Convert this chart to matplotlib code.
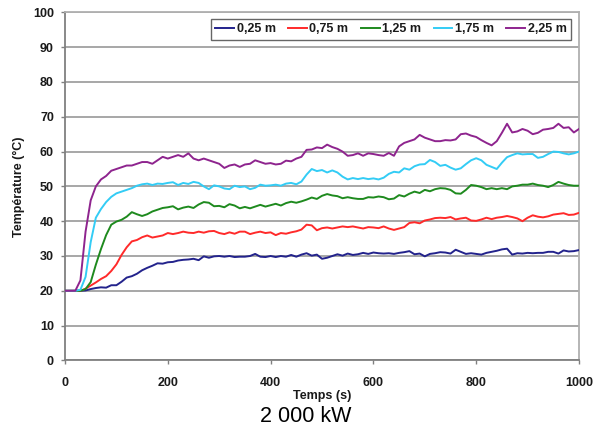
import matplotlib
matplotlib.use("Agg")
import matplotlib.pyplot as plt

time_s = list(range(0, 1001, 10))

t_025 = [20, 20, 20, 20, 20.1, 20.5, 20.8, 21, 20.9, 21.6, 21.6, 22.6, 23.8, 24.2, 24.9, 25.9, 26.6, 27.2, 27.9, 27.8,
         28.2, 28.3, 28.7, 28.9, 29, 29.2, 28.8, 29.9, 29.5, 29.9, 30, 29.8, 30, 29.7, 29.8, 29.8, 30, 30.6, 29.8, 29.7,
         30, 29.7, 30, 29.8, 30.3, 29.8, 30.4, 30.8, 30.1, 30.4, 29.2, 29.5, 30, 30.5, 30.1, 30.7, 30.3, 30.5, 30.9, 30.6,
         31, 30.8, 30.7, 30.8, 30.6, 30.9, 31.1, 31.4, 30.5, 30.7, 29.9, 30.6, 30.8, 31.1, 31, 30.7, 31.8, 31.2, 30.6, 30.8,
         30.6, 30.4, 30.9, 31.2, 31.5, 31.9, 32.1, 30.4, 30.8, 30.7, 30.9, 30.8, 30.9, 30.9, 31.2, 31.2, 30.7, 31.6, 31.3, 31.4,
         31.7]

t_075 = [20, 20, 20, 20, 20.6, 21.5, 22.4, 23.4, 24.2, 25.7, 27.6, 30.3, 32.5, 34.2, 34.6, 35.4, 35.9, 35.3, 35.6, 35.9,
         36.6, 36.3, 36.6, 37, 36.7, 36.6, 37, 36.7, 37.1, 37.2, 36.6, 36.3, 36.8, 36.4, 37, 37, 36.3, 36.7, 37, 36.6,
         36.8, 36, 36.6, 36.4, 36.8, 37.1, 37.6, 39, 38.8, 37.4, 38, 38.2, 37.9, 38.2, 38.5, 38.3, 38.5, 38.2, 37.9, 38.3,
         38.2, 38, 38.5, 37.9, 37.5, 37.9, 38.3, 39.5, 39.7, 39.4, 40.2, 40.5, 40.9, 41, 40.9, 41.2, 40.5, 40.8, 41, 40.2,
         40.1, 40.5, 41, 40.6, 41, 41.2, 41.5, 41.2, 40.8, 40, 41, 41.7, 41.3, 41.1, 41.4, 41.9, 42.1, 42.3, 41.8, 41.9,
         42.4]

t_125 = [20, 20, 20, 20, 20.5, 22.5, 27.5, 32, 36, 39, 39.9, 40.4, 41.3, 42.6, 42, 41.5, 42, 42.8, 43.3, 43.8,
         44, 44.3, 43.4, 43.9, 44.2, 43.8, 44.8, 45.5, 45.3, 44.3, 44.4, 44, 44.9, 44.5, 43.7, 44.1, 43.7, 44.2, 44.7, 44.2,
         44.6, 45, 44.5, 45.2, 45.6, 45.3, 45.7, 46.2, 46.8, 46.4, 47.3, 47.8, 47.4, 47.2, 46.6, 46.9, 46.6, 46.4, 46.4, 46.9,
         46.8, 47.1, 46.9, 46.3, 46.5, 47.5, 47.1, 47.9, 48.5, 48.1, 49, 48.6, 49.2, 49.5, 49.4, 49, 48, 47.9, 49, 50.4,
         50.2, 49.8, 49.2, 49.5, 49.2, 49.5, 49.2, 50, 50.2, 50.5, 50.5, 50.8, 50.4, 50.2, 49.8, 50.4, 51.3, 50.8, 50.4, 50.2,
         50.2]

t_175 = [20, 20, 20, 20.3, 24, 34, 41, 43.5, 45.5, 47, 48, 48.5, 49, 49.5, 50.2, 50.6, 50.8, 50.4, 50.8, 50.7,
         51, 51.2, 50.4, 51, 50.7, 51.3, 51, 50, 49.2, 50.3, 50, 49.4, 49.2, 50.2, 49.8, 50, 49.2, 49.6, 50.5, 50.2,
         50.3, 50.5, 50.2, 50.8, 51, 50.6, 51.4, 53.4, 55, 54.4, 54.7, 54, 54.6, 54, 52.8, 52, 52.4, 52.1, 52.4, 52.1,
         52.3, 52, 52.5, 53.6, 54.2, 54, 55.2, 54.8, 55.8, 56.3, 56.4, 57.6, 57, 55.9, 56.2, 55.4, 54.8, 55.2, 56.4, 57.5,
         58.1, 57.5, 56.2, 55.6, 55, 56.8, 58.4, 59, 59.5, 59.2, 59.3, 59.3, 58.2, 58.5, 59.3, 60, 59.9, 59.5, 59.2, 59.5,
         60]

t_225 = [20, 20, 20, 23, 37, 46, 50, 52, 53, 54.5, 55, 55.5, 56, 56, 56.5, 57, 57, 56.5, 57.5, 58.5,
         58, 58.5, 59, 58.5, 59.5, 58, 57.5, 58, 57.5, 57, 56.5, 55.3, 56, 56.3, 55.6, 56.3, 56.5, 57.5, 57, 56.5,
         56.7, 56.3, 56.5, 57.4, 57.2, 58, 58.5, 60.5, 60.6, 61.2, 61, 62, 61.3, 60.8, 60, 58.8, 59, 59.5, 58.8, 59.5,
         59.3, 59, 58.8, 59.6, 58.8, 61.5, 62.5, 63, 63.5, 64.8, 64, 63.5, 63, 63, 63.3, 63.2, 63.5, 65, 65.2, 64.6,
         64.2, 63.3, 62.5, 61.8, 63, 65.4, 68, 65.5, 65.8, 66.5, 66, 65, 65.4, 66.3, 66.5, 66.8, 68, 66.8, 67, 65.5,
         66.5]

series_labels = ["0,25 m", "0,75 m", "1,25 m", "1,75 m", "2,25 m"]
series_values = [t_025, t_075, t_125, t_175, t_225]
series_colors = ["#23238C", "#FF2A2A", "#1E8A1E", "#33CCF5", "#8E248E"]

x_ticks = [0, 200, 400, 600, 800, 1000]
y_ticks = [0, 10, 20, 30, 40, 50, 60, 70, 80, 90, 100]

plt.rcParams['font.family'] = ['Liberation Sans', 'DejaVu Sans']

FS = 9

fig = plt.figure(figsize=(6.11, 4.34), dpi=100)
ax = fig.add_axes([65 / 611, 1 - 360.4 / 434, 514 / 611, 348 / 434])

for vals, lab, col in zip(series_values, series_labels, series_colors):
    ax.plot(time_s, vals, color=col, lw=1.4, label=lab, zorder=3)

ax.set_xlim(0, 1000)
ax.set_ylim(0, 100)
ax.set_xticks(x_ticks)
ax.set_yticks(y_ticks)
ax.yaxis.grid(True, color="#A0A0A0", lw=1.3, zorder=0)
ax.set_axisbelow(True)

for s in ["top", "right"]:
    ax.spines[s].set_color("#B0B0B0")
    ax.spines[s].set_linewidth(1.3)
for s in ["left", "bottom"]:
    ax.spines[s].set_color("#808080")
    ax.spines[s].set_linewidth(1.3)

ax.tick_params(axis="both", direction="out", length=3, width=1, color="#808080",
               labelsize=FS, labelcolor="#1A1A1A")
ax.tick_params(axis="x", pad=9)
ax.tick_params(axis="y", pad=5)
for lbl in ax.get_xticklabels() + ax.get_yticklabels():
    lbl.set_fontweight("bold")

ax.set_xlabel("Temps (s)", fontsize=FS, fontweight="bold", color="#1A1A1A")
ax.xaxis.set_label_coords(0.5, -0.086)
ax.set_ylabel("Température (°C)", fontsize=FS, fontweight="bold", color="#1A1A1A")
ax.yaxis.set_label_coords(-0.078, 0.5)

leg = ax.legend(ncol=5, loc="upper right", bbox_to_anchor=(0.984, 0.981),
                prop={"weight": "bold", "size": FS}, frameon=True, fancybox=False,
                handlelength=1.5, handletextpad=0.2, columnspacing=1.0,
                borderpad=0.35, borderaxespad=0)
leg.get_frame().set_edgecolor("#404040")
leg.get_frame().set_linewidth(1.0)
for txt in leg.get_texts():
    txt.set_color("#1A1A1A")

fig.text(0.5, 1 - 417 / 434, "2 000 kW", ha="center", va="center", fontsize=15.5, color="#000000")

fig.savefig("out.png", dpi=100)
